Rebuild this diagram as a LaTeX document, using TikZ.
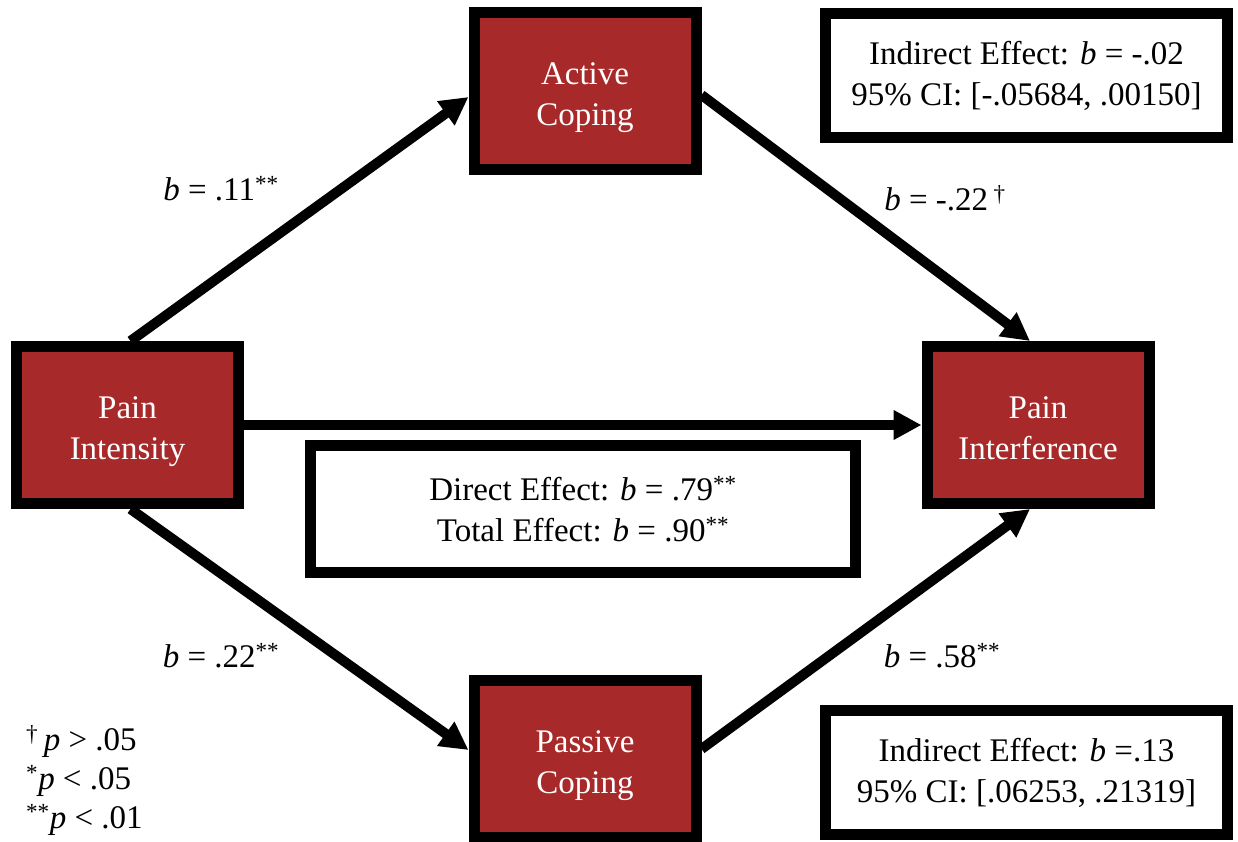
\documentclass[tikz,border=0pt]{standalone}
\usepackage{fontspec}
\setmainfont{Liberation Serif}
\usetikzlibrary{arrows.meta,calc}
\definecolor{boxred}{HTML}{A8292A}
\begin{document}
\begin{tikzpicture}[x=1pt,y=-1pt,
  every node/.style={font=\fontsize{33}{41}\selectfont, inner sep=0pt},
  var/.style={draw=black, line width=11pt, fill=boxred, text=white, align=center,
              minimum width=222pt, minimum height=157pt, text height=75pt, text depth=7pt},
  info/.style={draw=black, line width=11pt, fill=white, align=center},
  arr/.style={line width=10pt, -{Triangle[length=28pt,width=28pt]}},
  coef/.style={anchor=center}]
\useasboundingbox (0,0) rectangle (1238,841);

% variables
\node[var] (pi) at (127.5,425) {Pain\\Intensity};
\node[var] (ac) at (585,91) {Active\\Coping};
\node[var] (pf) at (1038,425) {Pain\\Interference};
\node[var] (pc) at (585,759) {Passive\\Coping};

% effect boxes
\node[info, minimum width=402pt, minimum height=124pt] (ind1) at (1026.5,75.5)
  {Indirect Effect: \textit{b} = -.02\\95\% CI: [-.05684, .00150]};
\node[info, minimum width=545pt, minimum height=127pt] (dir) at (583,509)
  {Direct Effect: \textit{b} = .79\textsuperscript{**}\\Total Effect: \textit{b} = .90\textsuperscript{**}};
\node[info, minimum width=402pt, minimum height=124pt] (ind2) at (1026.5,772.5)
  {Indirect Effect: \textit{b} =.13\\95\% CI: [.06253, .21319]};

% paths
\draw[arr] ($(pi.north)+(3,0)$) -- ($(ac.west)+(0,6)$);
\draw[arr] ($(ac.east)+(0,4)$) -- ($(pf.north)+(-8,0)$);
\draw[arr] (pi.east) -- (pf.west);
\draw[arr] ($(pi.south)+(3,0)$) -- ($(pc.west)+(0,-9)$);
\draw[arr] ($(pc.east)+(0,-10)$) -- ($(pf.south)+(-8,0)$);

% coefficients
\node[coef] (c1) at (221,189) {\textit{b} = .11\textsuperscript{**}};
\node[coef] (c2) at (945,198) {\textit{b} = -.22\,\textsuperscript{†}};
\node[coef] (c3) at (221,656) {\textit{b} = .22\textsuperscript{**}};
\node[coef] (c4) at (942,656) {\textit{b} = .58\textsuperscript{**}};

% significance legend
\node[anchor=west, align=left, font=\fontsize{33}{39}\selectfont] (leg) at (26,780)
  {\textsuperscript{†}\,\textit{p} > .05\\\textsuperscript{*}\textit{p} < .05\\\textsuperscript{**}\textit{p} < .01};
\end{tikzpicture}
\end{document}
